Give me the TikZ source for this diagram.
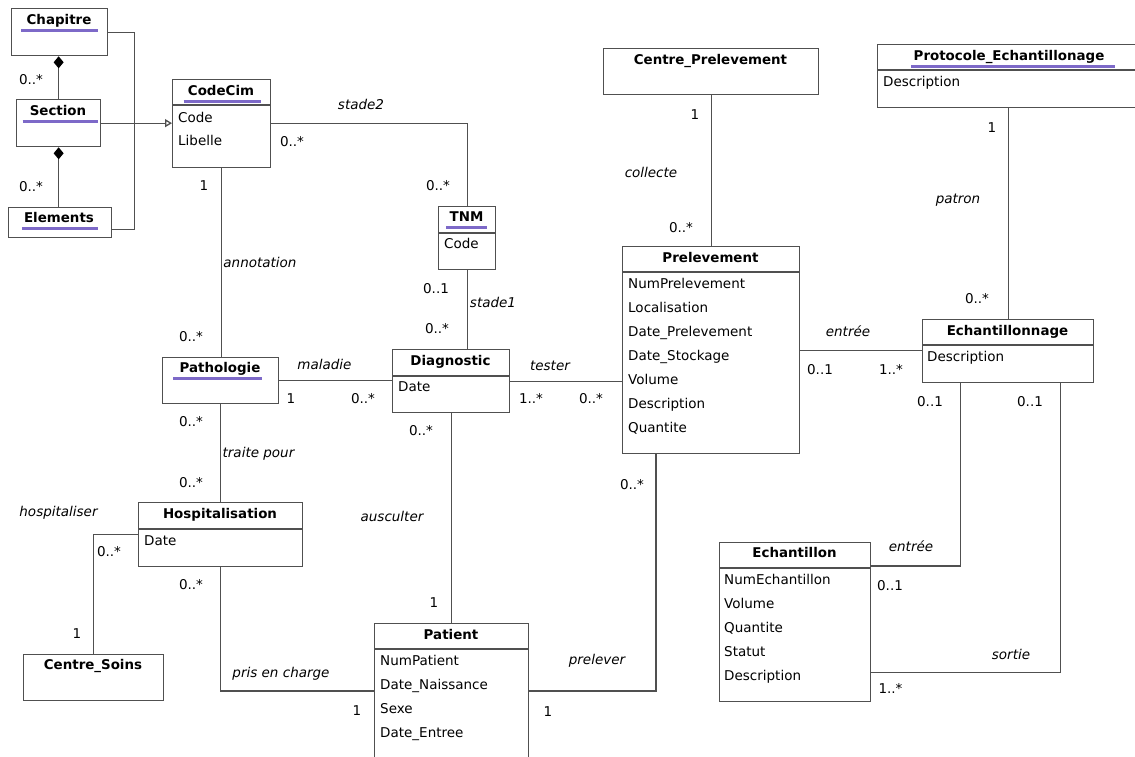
\documentclass[tikz,border=0pt]{standalone}
\usepackage{fontspec}
\setmainfont{DejaVu Sans}
\usetikzlibrary{arrows.meta,calc}
\definecolor{ln}{RGB}{80,80,80}
\definecolor{ul}{RGB}{125,105,200}
\tikzset{
 cls/.style={draw=ln, line width=1.3pt, fill=white, anchor=north west, inner sep=0pt},
 ttl/.style={font=\fontsize{13.4}{15}\selectfont\bfseries, inner sep=0pt, text height=9pt, text depth=0pt},
 att/.style={font=\fontsize{13.5}{15}\selectfont, inner sep=0pt, text height=9pt, text depth=0pt, anchor=west},
 mult/.style={font=\fontsize{13.5}{15}\selectfont, inner sep=0pt, text height=9pt, text depth=0pt},
 asc/.style={font=\fontsize{13.5}{15}\selectfont\itshape, inner sep=0pt, text height=9pt, text depth=0pt},
 conn/.style={draw=ln, line width=1.3pt},
 divl/.style={draw=ln, line width=1.3pt},
 uline/.style={draw=ul, line width=2.6pt},
 comp/.style={conn, {Diamond[length=12pt,width=10pt,color=black,fill=black]}-},
 gen/.style={conn, -{Triangle[open,length=7pt,width=8pt]}},
}
\begin{document}
\begin{tikzpicture}[x=1pt,y=-1pt]
\useasboundingbox (0,0) rectangle (1135,756);
\fill[white] (0,0) rectangle (1135,756);
\clip (0,0) rectangle (1135,756);

% ---------- classes ----------
\node[cls, minimum width=96pt, minimum height=47pt] (chap) at (11,8) {};
\node[ttl] (chapT) at (59,20) {Chapitre};
\draw[uline] ([xshift=-5pt,yshift=-6pt]chapT.south west) -- ([xshift=6pt,yshift=-6pt]chapT.south east);

\node[cls, minimum width=84pt, minimum height=47pt] (sec) at (16,99) {};
\node[ttl] (secT) at (58,111) {Section};
\draw[uline] ([xshift=-7pt,yshift=-6pt]secT.south west) -- ([xshift=12pt,yshift=-6pt]secT.south east);

\node[cls, minimum width=103pt, minimum height=30pt] (elem) at (8,207) {};
\node[ttl] (elemT) at (59,218) {Elements};
\draw[uline] ([xshift=-2pt,yshift=-6pt]elemT.south west) -- ([xshift=4pt,yshift=-6pt]elemT.south east);

\node[cls, minimum width=98pt, minimum height=88pt] (code) at (172,79) {};
\node[ttl] (codeT) at (221,91) {CodeCim};
\draw[uline] ([xshift=-4pt,yshift=-6pt]codeT.south west) -- ([xshift=7pt,yshift=-6pt]codeT.south east);
\draw[divl] ($(code.north west)+(0,26)$) -- ($(code.north east)+(0,26)$);
\node[att] (codeA1) at (178,118) {Code};
\node[att] (codeA2) at (178,141) {Libelle};

\node[cls, minimum width=57pt, minimum height=63pt] (tnm) at (438,206) {};
\node[ttl] (tnmT) at (466.5,217) {TNM};
\draw[uline] ([xshift=-3pt,yshift=-6pt]tnmT.south west) -- ([xshift=3pt,yshift=-6pt]tnmT.south east);
\draw[divl] ($(tnm.north west)+(0,27)$) -- ($(tnm.north east)+(0,27)$);
\node[att] (tnmA1) at (444,244) {Code};

\node[cls, minimum width=215pt, minimum height=46pt] (cprel) at (603,48) {};
\node[ttl] (cprelT) at (710.5,60) {Centre\_Prelevement};

\node[cls, minimum width=270pt, minimum height=63pt] (proto) at (877,44) {};
\node[ttl] (protoT) at (1009,56) {Protocole\_Echantillonage};
\draw[uline] ([xshift=-2pt,yshift=-6pt]protoT.south west) -- ([xshift=10pt,yshift=-6pt]protoT.south east);
\draw[divl] ($(proto.north west)+(0,26)$) -- ($(proto.north east)+(0,26)$);
\node[att] (protoA1) at (883,82) {Description};

\node[cls, minimum width=116pt, minimum height=46pt] (path) at (162,357) {};
\node[ttl] (pathT) at (220,368) {Pathologie};
\draw[uline] ([xshift=-6pt,yshift=-6pt]pathT.south west) -- ([xshift=1pt,yshift=-6pt]pathT.south east);

\node[cls, minimum width=117pt, minimum height=63pt] (diag) at (392,349) {};
\node[ttl] (diagT) at (450.5,361) {Diagnostic};
\draw[divl] ($(diag.north west)+(0,27)$) -- ($(diag.north east)+(0,27)$);
\node[att] (diagA1) at (398,387) {Date};

\node[cls, minimum width=177pt, minimum height=207pt] (prel) at (622,246) {};
\node[ttl] (prelT) at (710.5,258) {Prelevement};
\draw[divl] ($(prel.north west)+(0,26)$) -- ($(prel.north east)+(0,26)$);
\node[att] (prelA1) at (628,284) {NumPrelevement};
\node[att] (prelA2) at (628,308) {Localisation};
\node[att] (prelA3) at (628,332) {Date\_Prelevement};
\node[att] (prelA4) at (628,356) {Date\_Stockage};
\node[att] (prelA5) at (628,380) {Volume};
\node[att] (prelA6) at (628,404) {Description};
\node[att] (prelA7) at (628,428) {Quantite};

\node[cls, minimum width=171pt, minimum height=63pt] (echg) at (922,319) {};
\node[ttl] (echgT) at (1007.5,331) {Echantillonnage};
\draw[divl] ($(echg.north west)+(0,26)$) -- ($(echg.north east)+(0,26)$);
\node[att] (echgA1) at (927,357) {Description};

\node[cls, minimum width=164pt, minimum height=64pt] (hosp) at (138,502) {};
\node[ttl] (hospT) at (220,514) {Hospitalisation};
\draw[divl] ($(hosp.north west)+(0,27)$) -- ($(hosp.north east)+(0,27)$);
\node[att] (hospA1) at (144,541) {Date};

\node[cls, minimum width=140pt, minimum height=46pt] (csoins) at (23,654) {};
\node[ttl] (csoinsT) at (93,665) {Centre\_Soins};

\node[cls, minimum width=154pt, minimum height=140pt] (pat) at (374,623) {};
\node[ttl] (patT) at (451,635) {Patient};
\draw[divl] ($(pat.north west)+(0,26)$) -- ($(pat.north east)+(0,26)$);
\node[att] (patA1) at (380,661) {NumPatient};
\node[att] (patA2) at (380,685) {Date\_Naissance};
\node[att] (patA3) at (380,709) {Sexe};
\node[att] (patA4) at (380,733) {Date\_Entree};

\node[cls, minimum width=151pt, minimum height=159pt] (echt) at (719,542) {};
\node[ttl] (echtT) at (794.5,553) {Echantillon};
\draw[divl] ($(echt.north west)+(0,26)$) -- ($(echt.north east)+(0,26)$);
\node[att] (echtA1) at (724,580) {NumEchantillon};
\node[att] (echtA2) at (724,604) {Volume};
\node[att] (echtA3) at (724,628) {Quantite};
\node[att] (echtA4) at (724,652) {Statut};
\node[att] (echtA5) at (724,676) {Description};

% ---------- connectors ----------
\draw[comp] (chap.south -| sec.north) -- (sec.north);
\draw[comp] (sec.south) -- (sec.south |- elem.north);
\draw[conn] (chap.east) -- ++(26,0) |- ([yshift=-7pt]elem.east);
\draw[gen] (sec.east) -- (sec.east -| code.west);
\draw[conn] (code.east) -| (tnm.north);
\draw[conn] (code.south) -- (code.south |- path.north);
\draw[conn] (tnm.south) -- (tnm.south |- diag.north);
\draw[conn] (path.east) -- (path.east -| diag.west);
\draw[conn] (diag.east) -- (diag.east -| prel.west);
\draw[conn] (cprel.south) -- (cprel.south |- prel.north);
\draw[conn] (echg.north |- proto.south) -- (echg.north);
\draw[conn] (prel.east) -- (prel.east -| echg.west);
\draw[conn] (path.south) -- (path.south |- hosp.north);
\draw[conn] (hosp.west) -| (csoins.north);
\draw[conn] (hosp.south) |- ([yshift=-68pt]pat.north west);
\draw[conn] (diag.south) -- (diag.south |- pat.north);
\draw[conn] ([xshift=34pt]prel.south west) |- ([yshift=-68pt]pat.north east);
\draw[conn] ([xshift=-47.5pt]echg.south) |- ([yshift=-24pt]echt.north east);
\draw[conn] ([xshift=52.5pt]echg.south) |- ([yshift=30pt]echt.south east);

% ---------- labels ----------
\node[mult] (m1) at (31,80) {0..*};
\node[mult] (m2) at (31,187) {0..*};
\node[mult] (m3) at (204,186) {1};
\node[mult] (m4) at (292,142) {0..*};
\node[asc] (a1) at (361,105) {stade2};
\node[mult] (m5) at (438,186) {0..*};
\node[asc] (a2) at (260,263) {annotation};
\node[mult] (m6) at (436,289) {0..1};
\node[asc] (a3) at (493,303) {stade1};
\node[mult] (m7) at (437,329) {0..*};
\node[mult] (m8) at (191,337) {0..*};
\node[asc] (a4) at (324.5,365) {maladie};
\node[mult] (m9) at (291,399) {1};
\node[mult] (m10) at (363,399) {0..*};
\node[mult] (m11) at (191,422) {0..*};
\node[asc] (a5) at (258.5,453) {traite pour};
\node[mult] (m12) at (421,431) {0..*};
\node[asc] (a6) at (550,366) {tester};
\node[mult] (m13) at (531,399) {1..*};
\node[mult] (m14) at (591,399) {0..*};
\node[mult] (m15) at (191,483) {0..*};
\node[asc] (a7) at (58.5,512) {hospitaliser};
\node[mult] (m16) at (109,552) {0..*};
\node[mult] (m17) at (77,634) {1};
\node[mult] (m18) at (191,585) {0..*};
\node[asc] (a8) at (281,673) {pris en charge};
\node[mult] (m19) at (357,711) {1};
\node[asc] (a9) at (392,517) {ausculter};
\node[mult] (m20) at (434,603) {1};
\node[asc] (a10) at (597,660) {prelever};
\node[mult] (m21) at (548,712) {1};
\node[mult] (m22) at (632,485) {0..*};
\node[mult] (m23) at (695,115) {1};
\node[asc] (a11) at (651,173) {collecte};
\node[mult] (m24) at (681,228) {0..*};
\node[mult] (m25) at (992,128) {1};
\node[asc] (a12) at (958,199) {patron};
\node[mult] (m26) at (977,299) {0..*};
\node[asc] (a13) at (848,332) {entrée};
\node[mult] (m27) at (820,370) {0..1};
\node[mult] (m28) at (891,370) {1..*};
\node[mult] (m29) at (930,402) {0..1};
\node[mult] (m30) at (1030,402) {0..1};
\node[asc] (a14) at (911,547) {entrée};
\node[mult] (m31) at (890,586) {0..1};
\node[asc] (a15) at (1011,655) {sortie};
\node[mult] (m32) at (890.5,689) {1..*};
\end{tikzpicture}
\end{document}
